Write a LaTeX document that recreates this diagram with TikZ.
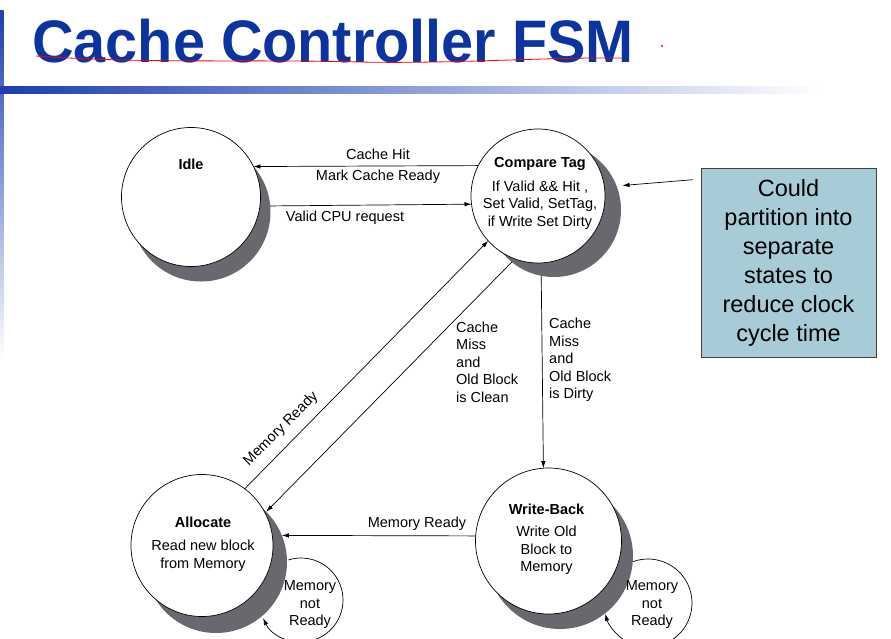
\documentclass[tikz,border=0pt]{standalone}
\usepackage{fontspec}
\setmainfont{Liberation Sans}
\usetikzlibrary{arrows.meta,calc}
\definecolor{titleblue}{RGB}{12,52,160}
\definecolor{barblue}{RGB}{28,62,176}
\definecolor{shadowgray}{RGB}{104,104,110}
\definecolor{noteblue}{RGB}{168,204,215}
\begin{document}
\begin{tikzpicture}[x=1pt,y=-1pt,
  lbl/.style={font=\fontsize{14.5}{17.5}\selectfont, inner sep=0pt, align=center},
  boldlbl/.style={font=\fontsize{14.5}{17.5}\selectfont\bfseries, inner sep=0pt, align=center},
  fsmstate/.style={circle, draw=black, line width=0.7pt, fill=white, inner sep=0pt, outer sep=0pt, minimum size=#1},
  shadowc/.style={circle, fill=shadowgray, inner sep=0pt, outer sep=0pt, minimum size=#1},
  conn/.style={line width=0.7pt, -{Latex[length=7pt,width=4.5pt]}},
]
\useasboundingbox (0,0) rectangle (891,638);

% header decorations
\shade[top color=barblue, bottom color=white] (0,10) rectangle (3.5,360);
\shade[left color=barblue, right color=white] (0,86) rectangle (820,93);
\node[anchor=base west, inner sep=0pt, text=titleblue,
      font=\fontsize{60}{60}\selectfont\bfseries] (title) at (32,62)
      {\scalebox{0.96}[1]{Cache Controller FSM}};
\draw[red, line width=0.8pt] (36,56) .. controls (150,64) and (250,59) .. (360,62)
      .. controls (450,64) and (550,57) .. (622,58);
\fill[red] (662,46) circle (1.2);

% shadows
\node[shadowc=139pt] (idles) at (201,212) {};
\node[shadowc=134pt] (cts) at (554,210) {};
\node[shadowc=142pt] (allocs) at (216,562) {};
\node[shadowc=146pt] (wbs) at (560,556) {};

% self loops
\coordinate (aloopc) at (301,600);
\draw[conn] ($(aloopc)+(252.6:42)$) arc[start angle=252.6, end angle=514.5, radius=42];
\coordinate (wloopc) at (648,603);
\draw[conn] ($(wloopc)+(250.4:44)$) arc[start angle=250.4, end angle=525.8, radius=44];
\node[lbl] (aloopt) at (310,605) {Memory\\not\\Ready};
\node[lbl] (wloopt) at (652,605) {Memory\\not\\Ready};

% states
\node[fsmstate=139pt] (idle) at (191,197) {};
\node[fsmstate=134pt] (ct) at (538,196) {};
\node[fsmstate=142pt] (alloc) at (202,545.5) {};
\node[fsmstate=146pt] (wb) at (548.5,541) {};

\node[boldlbl] at ($(idle)+(0,-33)$) {Idle};
\node[boldlbl] at ($(ct)+(2,-32)$) {Compare Tag};
\node[lbl] at ($(ct)+(2,9)$) {If Valid \&\& Hit ,\\Set Valid, SetTag,\\if Write Set Dirty};
\node[boldlbl] at ($(alloc)+(1,-23.5)$) {Allocate};
\node[lbl] at ($(alloc)+(1,10)$) {Read new block\\from Memory};
\node[boldlbl] at ($(wb)+(-2,-32)$) {Write-Back};
\node[lbl] at ($(wb)+(-2,9.5)$) {Write Old\\Block to\\Memory};

% transitions
\draw[conn] (ct.153.4) -- (idle.26.3);
\node[lbl] at (378,154) {Cache Hit};
\node[lbl] at (378,177) {Mark Cache Ready};
\draw[conn] (idles.5.7) -- (ct.187.7);
\node[lbl] at (345,218) {Valid CPU request};
\draw[conn] (alloc.53.7) -- (ct.222.6);
\node[lbl, rotate=45] at (281,429) {Memory Ready};
\draw[conn] (cts.231.3) -- (allocs.45.5);
\node[lbl, anchor=west, align=left] at (456,362) {Cache\\Miss\\and\\Old Block\\is Clean};
\draw[conn] (cts.-101.2) -- (wb.94.4);
\node[lbl, anchor=west, align=left] at (549,360) {Cache\\Miss\\and\\Old Block\\is Dirty};
\draw[conn] (wb.176.5) -- (allocs.22.8);
\node[lbl] at (417,524) {Memory Ready};

% note
\node[draw=black!75, line width=0.6pt, fill=noteblue, minimum width=175pt, minimum height=189pt,
      inner sep=0pt, align=center, font=\fontsize{23.5}{29}\selectfont] (note) at (788.5,262.5)
      {Could\\partition into\\separate\\states to\\reduce clock\\cycle time};
\draw[conn, shorten >=6pt] ($(note.north west)+(-8,12)$) -- (cts.21);
\end{tikzpicture}
\end{document}
